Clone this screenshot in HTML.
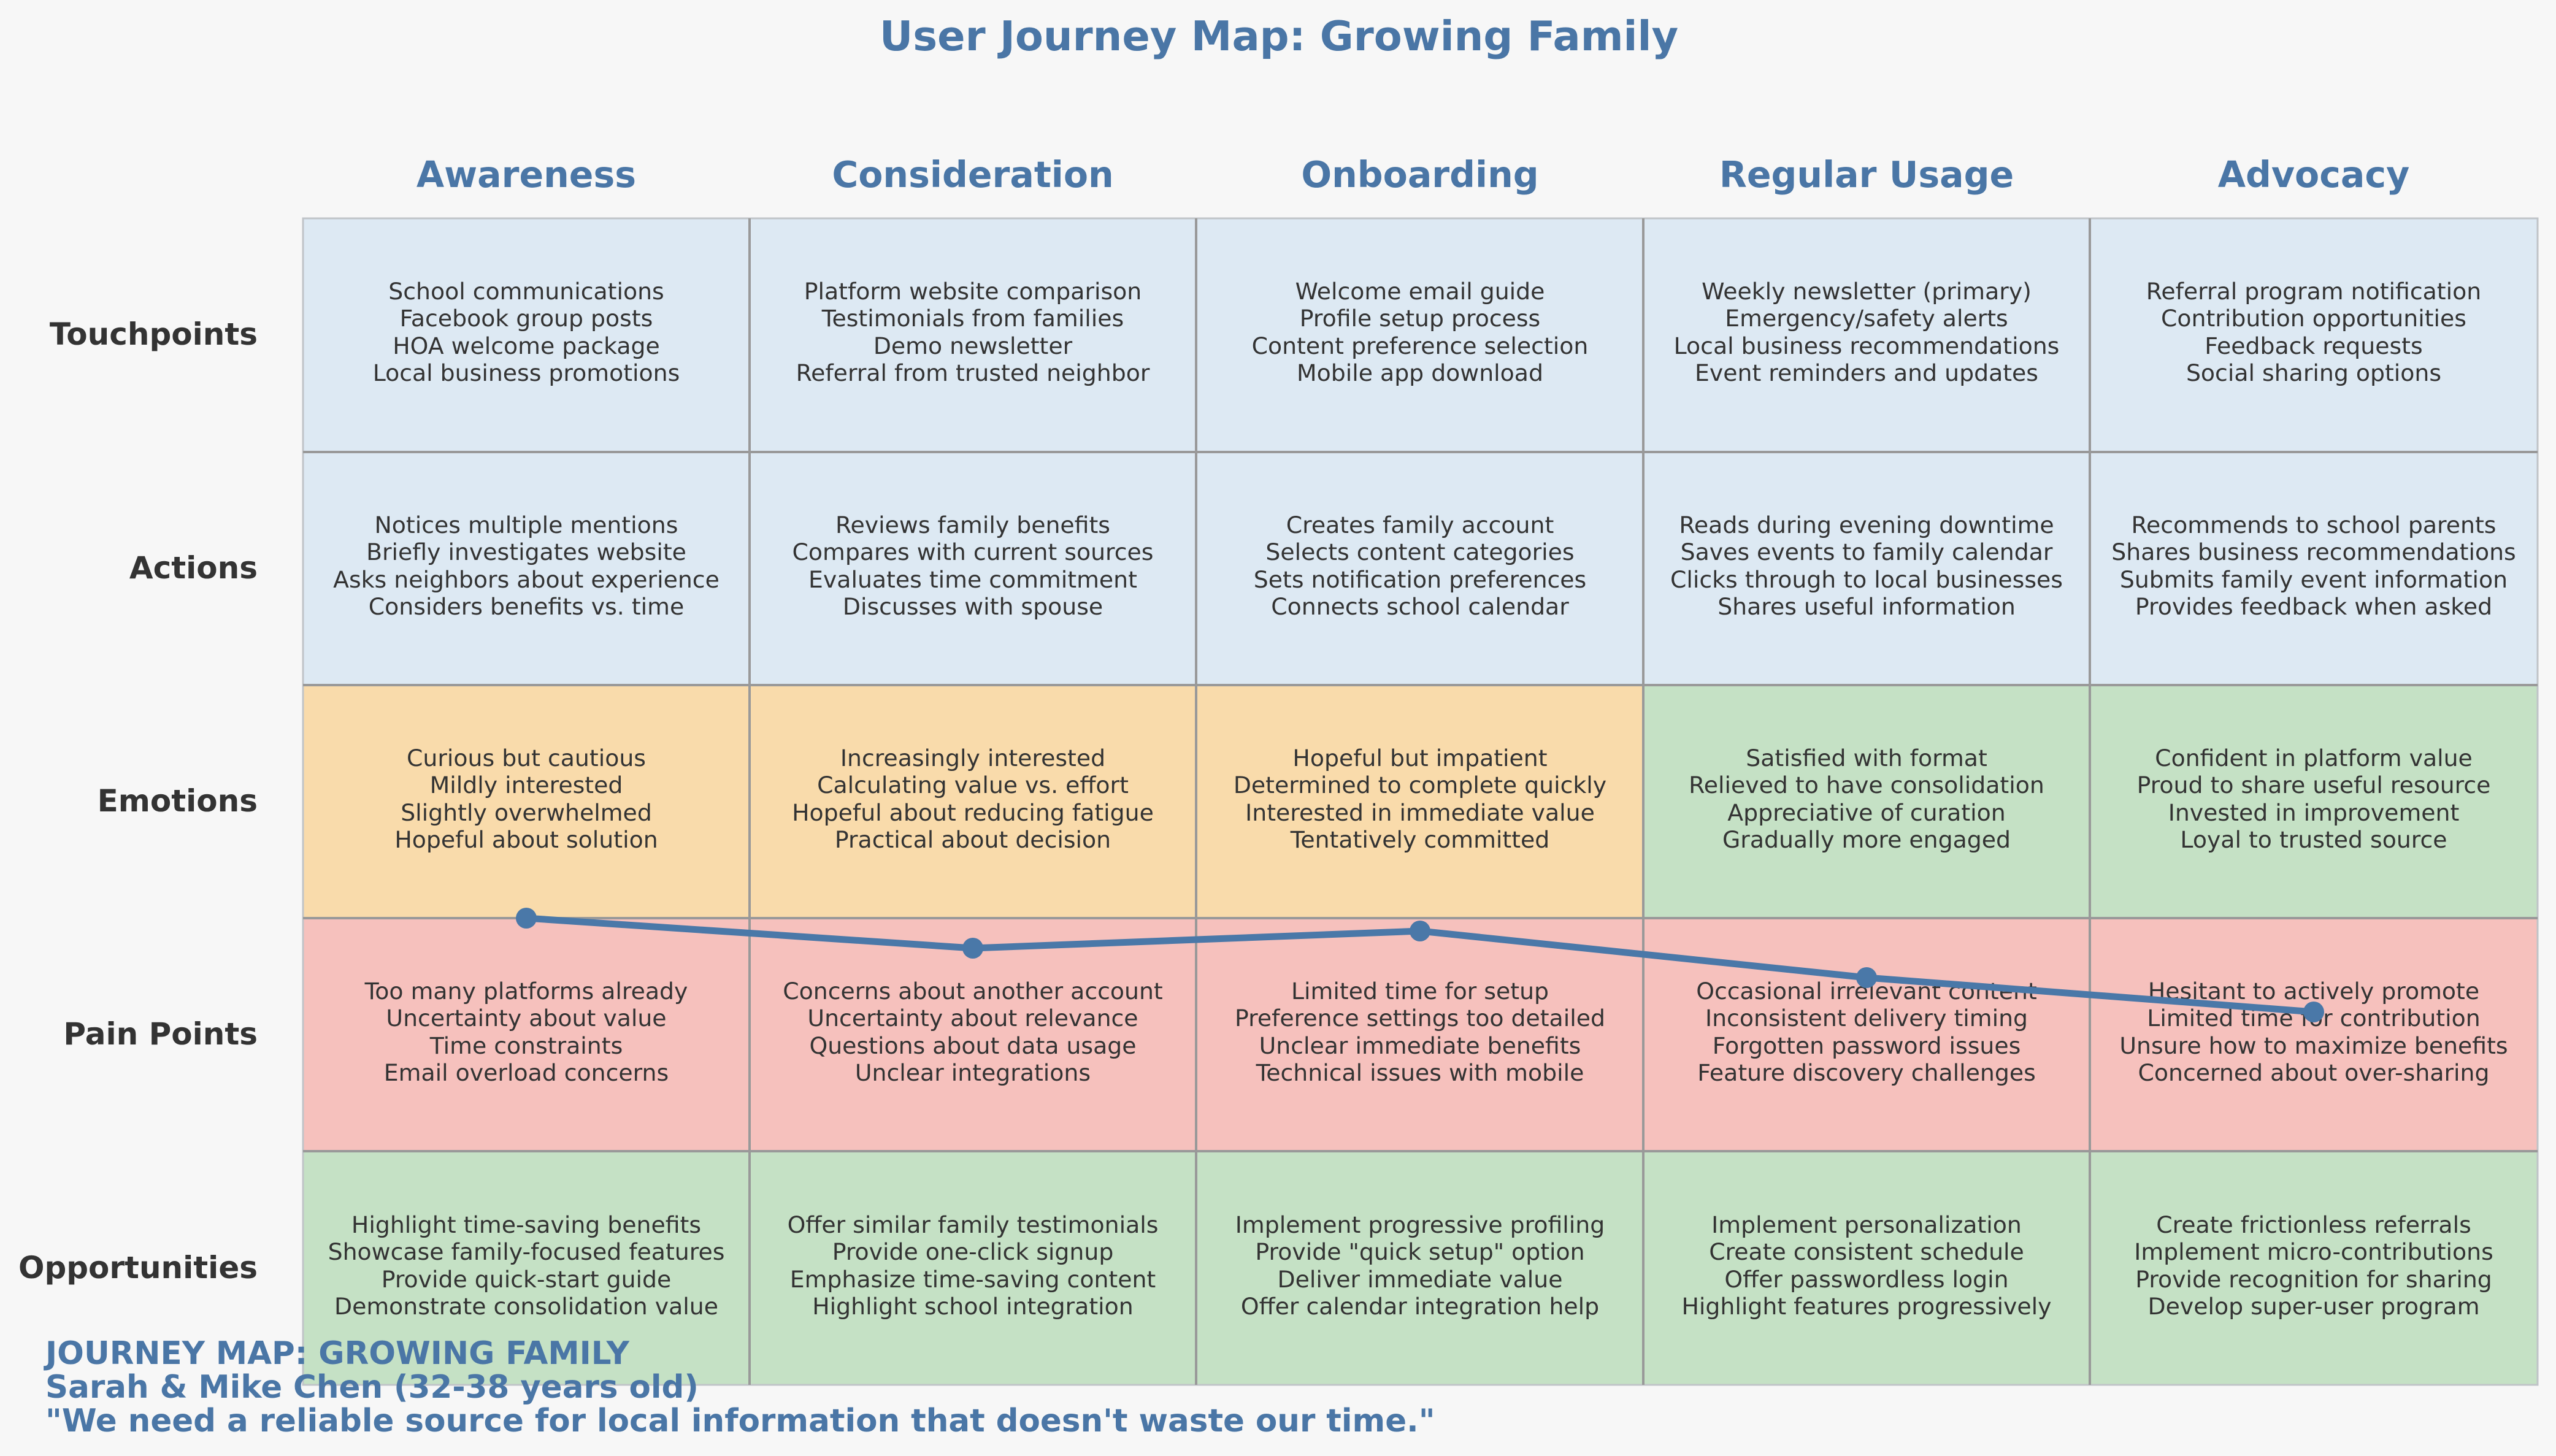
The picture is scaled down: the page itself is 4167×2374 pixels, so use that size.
<!DOCTYPE html>
<html><head><meta charset="utf-8"><style>
html,body{margin:0;padding:0;background:#f7f7f7;}
svg{display:block;}
text{font-family:"DejaVu Sans","Liberation Sans",sans-serif;}
.c{font-size:37.8px;fill:#333;text-anchor:middle;}
.h{font-size:58.5px;font-weight:bold;fill:#4a76a6;text-anchor:middle;}
.r{font-size:50px;font-weight:bold;fill:#333;text-anchor:end;}
.f{font-size:51.5px;font-weight:bold;fill:#4a76a6;}
</style></head><body>
<svg width="4167" height="2374" viewBox="0 0 4167 2374" xmlns="http://www.w3.org/2000/svg">
<rect width="4167" height="2374" fill="#f7f7f7"/>
<text x="2085" y="82" style="font-size:67px;font-weight:bold;fill:#4a76a6;text-anchor:middle">User Journey Map: Growing Family</text>
<g>
<text class="h" x="858" y="305">Awareness</text>
<text class="h" x="1586" y="305">Consideration</text>
<text class="h" x="2315" y="305">Onboarding</text>
<text class="h" x="3043" y="305">Regular Usage</text>
<text class="h" x="3772" y="305">Advocacy</text>
</g>
<g>
<rect x="494" y="356" width="3643" height="761" fill="#dde9f3"/>
<rect x="494" y="1117" width="2185" height="380" fill="#f9dbab"/>
<rect x="2679" y="1117" width="1458" height="380" fill="#c5e1c5"/>
<rect x="494" y="1497" width="3643" height="380" fill="#f6c1bd"/>
<rect x="494" y="1877" width="3643" height="381" fill="#c5e1c5"/>
<rect x="494" y="356" width="3643" height="1902" fill="none" stroke="#c0c4c8" stroke-width="3"/>
<g stroke="#999" stroke-width="4">
<line x1="1222" y1="356" x2="1222" y2="2258"/>
<line x1="1950" y1="356" x2="1950" y2="2258"/>
<line x1="2679" y1="356" x2="2679" y2="2258"/>
<line x1="3407" y1="356" x2="3407" y2="2258"/>
<line x1="494" y1="737" x2="4137" y2="737"/>
<line x1="494" y1="1117" x2="4137" y2="1117"/>
<line x1="494" y1="1497" x2="4137" y2="1497"/>
<line x1="494" y1="1877" x2="4137" y2="1877"/>
</g>
</g>
<text class="r" x="420" y="562">Touchpoints</text>
<text class="r" x="420" y="943">Actions</text>
<text class="r" x="420" y="1323">Emotions</text>
<text class="r" x="420" y="1703">Pain Points</text>
<text class="r" x="420" y="2084">Opportunities</text>
<g>
<text class="c" x="858" y="488">School communications</text><text class="c" x="858" y="532">Facebook group posts</text><text class="c" x="858" y="577">HOA welcome package</text><text class="c" x="858" y="621">Local business promotions</text>
<text class="c" x="1586" y="488">Platform website comparison</text><text class="c" x="1586" y="532">Testimonials from families</text><text class="c" x="1586" y="577">Demo newsletter</text><text class="c" x="1586" y="621">Referral from trusted neighbor</text>
<text class="c" x="2315" y="488">Welcome email guide</text><text class="c" x="2315" y="532">Profile setup process</text><text class="c" x="2315" y="577">Content preference selection</text><text class="c" x="2315" y="621">Mobile app download</text>
<text class="c" x="3043" y="488">Weekly newsletter (primary)</text><text class="c" x="3043" y="532">Emergency/safety alerts</text><text class="c" x="3043" y="577">Local business recommendations</text><text class="c" x="3043" y="621">Event reminders and updates</text>
<text class="c" x="3772" y="488">Referral program notification</text><text class="c" x="3772" y="532">Contribution opportunities</text><text class="c" x="3772" y="577">Feedback requests</text><text class="c" x="3772" y="621">Social sharing options</text>

<text class="c" x="858" y="869">Notices multiple mentions</text><text class="c" x="858" y="913">Briefly investigates website</text><text class="c" x="858" y="958">Asks neighbors about experience</text><text class="c" x="858" y="1002">Considers benefits vs. time</text>
<text class="c" x="1586" y="869">Reviews family benefits</text><text class="c" x="1586" y="913">Compares with current sources</text><text class="c" x="1586" y="958">Evaluates time commitment</text><text class="c" x="1586" y="1002">Discusses with spouse</text>
<text class="c" x="2315" y="869">Creates family account</text><text class="c" x="2315" y="913">Selects content categories</text><text class="c" x="2315" y="958">Sets notification preferences</text><text class="c" x="2315" y="1002">Connects school calendar</text>
<text class="c" x="3043" y="869">Reads during evening downtime</text><text class="c" x="3043" y="913">Saves events to family calendar</text><text class="c" x="3043" y="958">Clicks through to local businesses</text><text class="c" x="3043" y="1002">Shares useful information</text>
<text class="c" x="3772" y="869">Recommends to school parents</text><text class="c" x="3772" y="913">Shares business recommendations</text><text class="c" x="3772" y="958">Submits family event information</text><text class="c" x="3772" y="1002">Provides feedback when asked</text>

<text class="c" x="858" y="1249">Curious but cautious</text><text class="c" x="858" y="1293">Mildly interested</text><text class="c" x="858" y="1338">Slightly overwhelmed</text><text class="c" x="858" y="1382">Hopeful about solution</text>
<text class="c" x="1586" y="1249">Increasingly interested</text><text class="c" x="1586" y="1293">Calculating value vs. effort</text><text class="c" x="1586" y="1338">Hopeful about reducing fatigue</text><text class="c" x="1586" y="1382">Practical about decision</text>
<text class="c" x="2315" y="1249">Hopeful but impatient</text><text class="c" x="2315" y="1293">Determined to complete quickly</text><text class="c" x="2315" y="1338">Interested in immediate value</text><text class="c" x="2315" y="1382">Tentatively committed</text>
<text class="c" x="3043" y="1249">Satisfied with format</text><text class="c" x="3043" y="1293">Relieved to have consolidation</text><text class="c" x="3043" y="1338">Appreciative of curation</text><text class="c" x="3043" y="1382">Gradually more engaged</text>
<text class="c" x="3772" y="1249">Confident in platform value</text><text class="c" x="3772" y="1293">Proud to share useful resource</text><text class="c" x="3772" y="1338">Invested in improvement</text><text class="c" x="3772" y="1382">Loyal to trusted source</text>

<text class="c" x="858" y="1629">Too many platforms already</text><text class="c" x="858" y="1673">Uncertainty about value</text><text class="c" x="858" y="1718">Time constraints</text><text class="c" x="858" y="1762">Email overload concerns</text>
<text class="c" x="1586" y="1629">Concerns about another account</text><text class="c" x="1586" y="1673">Uncertainty about relevance</text><text class="c" x="1586" y="1718">Questions about data usage</text><text class="c" x="1586" y="1762">Unclear integrations</text>
<text class="c" x="2315" y="1629">Limited time for setup</text><text class="c" x="2315" y="1673">Preference settings too detailed</text><text class="c" x="2315" y="1718">Unclear immediate benefits</text><text class="c" x="2315" y="1762">Technical issues with mobile</text>
<text class="c" x="3043" y="1629">Occasional irrelevant content</text><text class="c" x="3043" y="1673">Inconsistent delivery timing</text><text class="c" x="3043" y="1718">Forgotten password issues</text><text class="c" x="3043" y="1762">Feature discovery challenges</text>
<text class="c" x="3772" y="1629">Hesitant to actively promote</text><text class="c" x="3772" y="1673">Limited time for contribution</text><text class="c" x="3772" y="1718">Unsure how to maximize benefits</text><text class="c" x="3772" y="1762">Concerned about over-sharing</text>

<text class="c" x="858" y="2010">Highlight time-saving benefits</text><text class="c" x="858" y="2054">Showcase family-focused features</text><text class="c" x="858" y="2099">Provide quick-start guide</text><text class="c" x="858" y="2143">Demonstrate consolidation value</text>
<text class="c" x="1586" y="2010">Offer similar family testimonials</text><text class="c" x="1586" y="2054">Provide one-click signup</text><text class="c" x="1586" y="2099">Emphasize time-saving content</text><text class="c" x="1586" y="2143">Highlight school integration</text>
<text class="c" x="2315" y="2010">Implement progressive profiling</text><text class="c" x="2315" y="2054">Provide "quick setup" option</text><text class="c" x="2315" y="2099">Deliver immediate value</text><text class="c" x="2315" y="2143">Offer calendar integration help</text>
<text class="c" x="3043" y="2010">Implement personalization</text><text class="c" x="3043" y="2054">Create consistent schedule</text><text class="c" x="3043" y="2099">Offer passwordless login</text><text class="c" x="3043" y="2143">Highlight features progressively</text>
<text class="c" x="3772" y="2010">Create frictionless referrals</text><text class="c" x="3772" y="2054">Implement micro-contributions</text><text class="c" x="3772" y="2099">Provide recognition for sharing</text><text class="c" x="3772" y="2143">Develop super-user program</text>
</g>
<polyline points="858,1497 1586,1546 2315,1518 3043,1594 3772,1650" fill="none" stroke="#4a78a8" stroke-width="11" stroke-linejoin="round"/>
<g fill="#4a78a8">
<circle cx="858" cy="1497" r="17"/><circle cx="1586" cy="1546" r="17"/><circle cx="2315" cy="1518" r="17"/><circle cx="3043" cy="1594" r="17"/><circle cx="3772" cy="1650" r="17"/>
</g>
<text class="f" x="74" y="2224">JOURNEY MAP: GROWING FAMILY</text>
<text class="f" x="74" y="2279">Sarah &amp; Mike Chen (32-38 years old)</text>
<text class="f" x="74" y="2334">"We need a reliable source for local information that doesn't waste our time."</text>
</svg>
</body></html>
